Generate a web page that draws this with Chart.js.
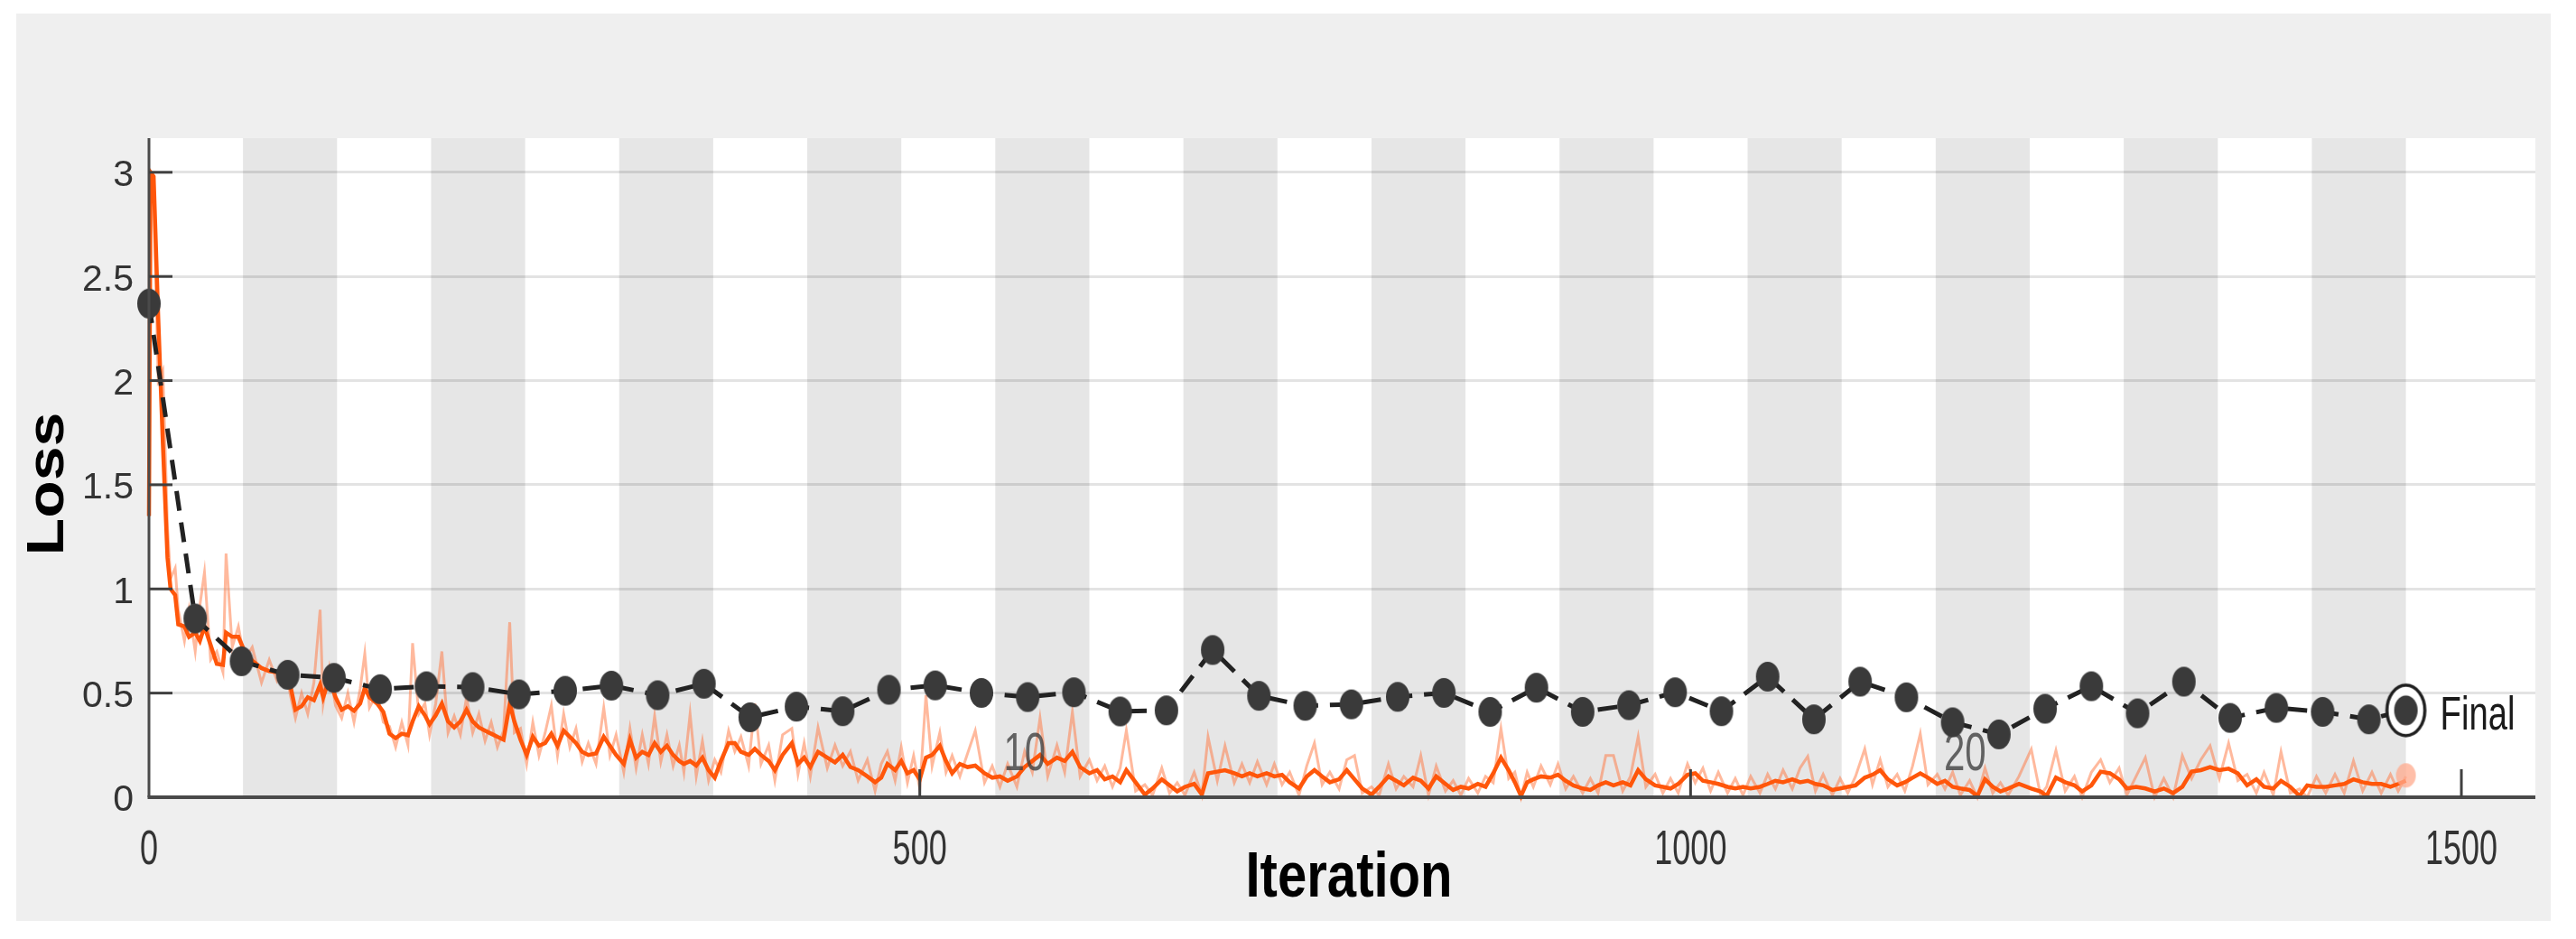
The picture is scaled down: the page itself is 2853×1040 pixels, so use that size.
<!DOCTYPE html>
<html><head><meta charset="utf-8">
<script src="https://cdn.jsdelivr.net/npm/chart.js@4.4.1/dist/chart.umd.min.js"></script>
<style>html,body{margin:0;padding:0;background:#fff;}canvas{display:block;}</style>
</head><body>
<canvas id="c" width="2853" height="1040"></canvas>
<script>
// ---------- DATA ----------
const xTickValues = [0, 500, 1000, 1500];
const yTickValues = [0, 0.5, 1, 1.5, 2, 2.5, 3];
const epochLength = 61;
const numEpochs = 24;
const epochLabels = [10, 20];

const valIter = [0,30,60,90,120,150,180,210,240,270,300,330,360,390,420,450,480,510,540,570,600,630,660,690,720,750,780,810,840,870,900,930,960,990,1020,1050,1080,1110,1140,1170,1200,1230,1260,1290,1320,1350,1380,1410,1440,1464];
const valLoss = [2.37,0.858,0.653,0.588,0.573,0.519,0.533,0.529,0.494,0.511,0.536,0.490,0.545,0.384,0.435,0.413,0.516,0.537,0.501,0.481,0.504,0.412,0.417,0.707,0.487,0.439,0.446,0.482,0.501,0.41,0.526,0.41,0.442,0.504,0.413,0.579,0.374,0.555,0.48,0.36,0.302,0.425,0.533,0.403,0.555,0.381,0.429,0.41,0.374,0.417];

const trainIter = [
0,1,3,6,9,12,14,17,19,23,
26,30,33,36,40,44,48,50,54,58,
62,67,73,78,83,88,92,95,99,103,
107,111,113,117,121,125,129,133,137,140,
143,148,152,156,160,164,168,171,175,179,
182,186,190,194,198,202,206,210,214,218,
222,226,230,234,237,241,245,249,253,257,
261,265,269,273,277,281,285,290,295,299,
303,308,312,316,320,324,328,332,336,340,
344,347,351,355,359,363,367,371,376,380,
384,389,393,397,402,406,411,417,421,425,
429,434,440,445,450,455,460,466,471,475,
479,484,488,492,496,500,504,508,513,517,
521,526,531,536,542,547,552,557,563,568,
573,578,583,589,594,599,604,610,615,620,
625,630,634,640,646,651,657,662,667,672,
678,683,687,693,698,704,709,714,719,725,
730,735,740,746,751,756,761,766,772,777,
782,787,793,798,804,809,814,820,825,830,
835,841,846,851,856,862,867,872,877,882,
886,890,894,898,903,909,914,919,924,930,
935,940,945,950,956,961,966,971,977,982,
987,992,998,1003,1008,1013,1018,1024,1029,1034,
1039,1045,1050,1055,1060,1066,1071,1076,1081,1086,
1092,1097,1102,1107,1113,1118,1123,1128,1134,1139,
1144,1149,1154,1160,1165,1170,1175,1181,1186,1191,
1196,1201,1206,1213,1221,1227,1231,1237,1243,1249,
1254,1260,1266,1272,1278,1283,1289,1295,1301,1307,
1313,1319,1325,1331,1337,1343,1349,1355,1361,1367,
1372,1378,1383,1389,1395,1400,1406,1412,1418,1424,
1430,1436,1442,1448,1454,1459,1464];

const trainSmooth = [
1.35,3.0,2.98,2.3,1.7,1.15,1.0,0.97,0.83,0.82,
0.77,0.79,0.75,0.82,0.73,0.64,0.635,0.79,0.77,0.77,
0.70,0.656,0.62,0.605,0.60,0.576,0.525,0.42,0.437,0.48,
0.466,0.54,0.48,0.57,0.48,0.42,0.437,0.415,0.45,0.525,
0.48,0.45,0.41,0.305,0.284,0.305,0.298,0.364,0.437,0.393,
0.35,0.393,0.45,0.364,0.335,0.364,0.42,0.364,0.335,0.32,
0.305,0.29,0.276,0.45,0.364,0.276,0.203,0.29,0.247,0.26,
0.305,0.247,0.32,0.29,0.26,0.218,0.203,0.21,0.29,0.247,
0.203,0.16,0.276,0.19,0.218,0.203,0.26,0.218,0.247,0.203,
0.174,0.16,0.174,0.152,0.19,0.13,0.094,0.174,0.26,0.26,
0.218,0.203,0.232,0.203,0.174,0.13,0.203,0.26,0.16,0.19,
0.145,0.218,0.19,0.167,0.203,0.145,0.13,0.10,0.072,0.094,
0.16,0.13,0.174,0.115,0.13,0.086,0.19,0.203,0.247,0.174,
0.115,0.16,0.145,0.152,0.115,0.094,0.10,0.079,0.10,0.145,
0.174,0.203,0.16,0.19,0.174,0.218,0.145,0.115,0.13,0.086,
0.10,0.072,0.13,0.072,0.013,0.042,0.086,0.057,0.028,0.05,
0.064,0.013,0.115,0.123,0.13,0.115,0.10,0.115,0.10,0.115,
0.10,0.108,0.072,0.042,0.10,0.13,0.10,0.072,0.086,0.13,
0.086,0.042,0.013,0.05,0.10,0.079,0.057,0.094,0.079,0.042,
0.10,0.064,0.035,0.05,0.042,0.064,0.05,0.115,0.19,0.13,
0.072,0.006,0.072,0.086,0.10,0.094,0.108,0.079,0.057,0.042,
0.035,0.057,0.072,0.057,0.072,0.057,0.13,0.086,0.057,0.05,
0.042,0.064,0.108,0.115,0.079,0.072,0.064,0.05,0.042,0.05,
0.042,0.05,0.064,0.079,0.072,0.086,0.072,0.079,0.064,0.057,
0.035,0.042,0.05,0.057,0.094,0.108,0.13,0.086,0.057,0.072,
0.094,0.115,0.094,0.064,0.079,0.05,0.042,0.035,0.006,0.086,
0.05,0.028,0.042,0.064,0.042,0.028,0.006,0.094,0.072,0.057,
0.028,0.057,0.123,0.115,0.086,0.042,0.05,0.042,0.028,0.042,
0.02,0.05,0.123,0.13,0.145,0.13,0.137,0.115,0.057,0.086,
0.05,0.042,0.079,0.05,0.006,0.057,0.05,0.05,0.057,0.064,
0.086,0.072,0.064,0.064,0.05,0.064,0.079];

const trainRaw = [
1.35,3.0,2.9,2.0,2.05,1.3,1.05,1.1,0.9,0.75,
0.9,0.7,0.92,1.08,0.66,0.7,0.6,1.17,0.72,0.82,
0.66,0.72,0.55,0.66,0.56,0.64,0.48,0.38,0.5,0.4,
0.55,0.9,0.45,0.62,0.44,0.38,0.5,0.36,0.52,0.69,
0.43,0.5,0.36,0.34,0.24,0.36,0.25,0.74,0.4,0.45,
0.3,0.45,0.7,0.31,0.39,0.3,0.48,0.31,0.4,0.27,
0.36,0.24,0.32,0.84,0.31,0.33,0.16,0.36,0.2,0.31,
0.44,0.2,0.4,0.24,0.33,0.17,0.26,0.16,0.43,0.2,
0.3,0.12,0.33,0.14,0.3,0.16,0.39,0.17,0.3,0.15,
0.25,0.12,0.4,0.1,0.27,0.08,0.18,0.12,0.32,0.22,
0.29,0.15,0.45,0.16,0.25,0.08,0.3,0.33,0.11,0.26,
0.1,0.335,0.14,0.25,0.15,0.22,0.08,0.18,0.03,0.16,
0.22,0.08,0.24,0.07,0.2,0.04,0.49,0.15,0.31,0.12,
0.2,0.1,0.21,0.32,0.07,0.15,0.05,0.16,0.05,0.22,
0.12,0.38,0.1,0.25,0.12,0.41,0.1,0.18,0.08,0.15,
0.05,0.14,0.32,0.03,0.06,0.01,0.14,0.02,0.07,0.01,
0.12,0.01,0.29,0.08,0.247,0.07,0.16,0.07,0.17,0.06,
0.16,0.06,0.12,0.01,0.15,0.26,0.06,0.12,0.04,0.18,
0.2,0.02,0.05,0.01,0.16,0.04,0.1,0.05,0.2,0.01,
0.15,0.03,0.08,0.01,0.09,0.02,0.1,0.07,0.33,0.09,
0.12,0.0,0.12,0.05,0.15,0.06,0.16,0.04,0.1,0.02,
0.09,0.02,0.2,0.2,0.03,0.1,0.29,0.05,0.11,0.02,
0.09,0.02,0.16,0.07,0.14,0.03,0.12,0.02,0.09,0.01,
0.1,0.02,0.11,0.04,0.13,0.04,0.14,0.196,0.03,0.11,
0.01,0.09,0.02,0.1,0.232,0.06,0.18,0.05,0.11,0.03,
0.15,0.305,0.06,0.11,0.04,0.12,0.01,0.08,0.0,0.14,
0.02,0.07,0.01,0.1,0.23,0.01,0.05,0.225,0.03,0.1,
0.0,0.12,0.18,0.07,0.14,0.01,0.1,0.19,0.0,0.09,
0.0,0.2,0.09,0.18,0.247,0.09,0.26,0.08,0.11,0.02,
0.12,0.01,0.218,0.02,0.04,0.0,0.1,0.02,0.11,0.02,
0.174,0.03,0.12,0.02,0.11,0.03,0.1];

const finalTrainLoss = 0.105;
const finalLabel = 'Final';
const xTitle = 'Iteration';
const yTitle = 'Loss';

// ---------- STYLE HELPERS ----------
const W = 2853, H = 1040;
const FONT = "'Liberation Sans', Arial, Helvetica, sans-serif";

function ellipseCanvas(w, h, fill) {
  const c = document.createElement('canvas');
  c.width = w + 2; c.height = h + 2;
  const g = c.getContext('2d');
  g.fillStyle = fill;
  g.beginPath(); g.ellipse(c.width / 2, c.height / 2, w / 2, h / 2, 0, 0, Math.PI * 2); g.fill();
  return c;
}
function ringCanvas() {
  const c = document.createElement('canvas');
  c.width = 50; c.height = 64;
  const g = c.getContext('2d');
  g.fillStyle = '#ffffff';
  g.beginPath(); g.ellipse(25, 32, 21, 28, 0, 0, Math.PI * 2); g.fill();
  g.strokeStyle = '#1f1f1f'; g.lineWidth = 3.5; g.stroke();
  g.fillStyle = '#3a3a3a';
  g.beginPath(); g.ellipse(25, 32, 13, 16.5, 0, 0, Math.PI * 2); g.fill();
  return c;
}
const valMarker = ellipseCanvas(26, 33, '#3a3a3a');
const finalMarker = ringCanvas();
const trainFinalMarker = ellipseCanvas(22, 27, 'rgba(255,170,140,0.75)');

function drawStretched(ctx, text, x, y, font, color, sx, align, rot) {
  ctx.save();
  ctx.translate(x, y);
  if (rot) ctx.rotate(rot);
  ctx.scale(sx, 1);
  ctx.font = font; ctx.fillStyle = color;
  ctx.textAlign = align; ctx.textBaseline = 'alphabetic';
  ctx.fillText(text, 0, 0);
  ctx.restore();
}

const pts = (xs, ys) => xs.map((x, i) => ({ x: x, y: ys[i] }));

// ---------- PLUGINS ----------
const backgroundPlugin = {
  id: 'background',
  beforeDraw(chart) {
    const { ctx, chartArea: a, scales: { x } } = chart;
    ctx.save();
    ctx.fillStyle = '#ffffff'; ctx.fillRect(0, 0, W, H);
    ctx.fillStyle = '#efefef'; ctx.fillRect(18, 15, 2807, 1005);
    ctx.fillStyle = '#ffffff'; ctx.fillRect(a.left, a.top, a.right - a.left, a.bottom - a.top);
    ctx.fillStyle = '#e6e6e6';
    for (let e = 2; e <= numEpochs; e += 2) {
      const x0 = x.getPixelForValue((e - 1) * epochLength);
      const x1 = x.getPixelForValue(e * epochLength);
      ctx.fillRect(x0, a.top, x1 - x0, a.bottom - a.top);
    }
    ctx.restore();
  }
};

const axesPlugin = {
  id: 'axesAndText',
  afterDatasetsDraw(chart) {
    const { ctx, chartArea: a, scales: { x, y } } = chart;
    ctx.save();
    ctx.strokeStyle = '#4a4a4a';
    ctx.lineWidth = 3;
    ctx.beginPath(); ctx.moveTo(a.left, a.top); ctx.lineTo(a.left, a.bottom); ctx.stroke();
    ctx.lineWidth = 4;
    ctx.beginPath(); ctx.moveTo(a.left - 1.5, a.bottom); ctx.lineTo(a.right, a.bottom); ctx.stroke();
    ctx.lineWidth = 3; ctx.strokeStyle = '#404040';
    yTickValues.forEach(v => {
      if (v === 0) return;
      const py = y.getPixelForValue(v);
      ctx.beginPath(); ctx.moveTo(a.left, py); ctx.lineTo(a.left + 26, py); ctx.stroke();
    });
    xTickValues.forEach(v => {
      if (v === 0) return;
      const px = x.getPixelForValue(v);
      ctx.beginPath(); ctx.moveTo(px, a.bottom); ctx.lineTo(px, a.bottom - 31); ctx.stroke();
    });
    ctx.restore();
  },
  afterDraw(chart) {
    const { ctx, scales: { x, y } } = chart;
    xTickValues.forEach(v => {
      drawStretched(ctx, String(v), x.getPixelForValue(v), 957, '53px ' + FONT, '#333333', 0.68, 'center');
    });
    drawStretched(ctx, xTitle, 1494, 993, 'bold 70px ' + FONT, '#000000', 0.83, 'center');
    drawStretched(ctx, yTitle, 70, 536, 'bold 58px ' + FONT, '#000000', 1.17, 'center', -Math.PI / 2);
    epochLabels.forEach(e => {
      const px = x.getPixelForValue((e - 1) * epochLength + 19);
      drawStretched(ctx, String(e), px, 853, '60px ' + FONT, 'rgba(60,60,60,0.78)', 0.7, 'center');
    });
    const li = valIter.length - 1;
    const fx = x.getPixelForValue(valIter[li]);
    const fy = y.getPixelForValue(valLoss[li]);
    drawStretched(ctx, finalLabel, fx + 38, fy + 21, '51px ' + FONT, '#1a1a1a', 0.75, 'left');
  }
};

// ---------- CHART ----------
new Chart(document.getElementById('c'), {
  type: 'line',
  data: {
    datasets: [
      {
        label: 'Final validation',
        data: [{ x: valIter[valIter.length - 1], y: valLoss[valLoss.length - 1] }],
        showLine: false,
        pointStyle: finalMarker, pointRadius: 20,
        order: 1, clip: false
      },
      {
        label: 'Validation',
        data: pts(valIter, valLoss),
        borderColor: '#222222', borderWidth: 5, borderDash: [22, 13],
        pointStyle: valMarker, pointRadius: 14,
        tension: 0, order: 2, clip: false
      },
      {
        label: 'Final training',
        data: [{ x: trainIter[trainIter.length - 1], y: finalTrainLoss }],
        showLine: false,
        pointStyle: trainFinalMarker, pointRadius: 12,
        order: 3, clip: false
      },
      {
        label: 'Training (smoothed)',
        data: pts(trainIter, trainSmooth),
        borderColor: '#ff560a', borderWidth: 4.5,
        pointRadius: 0, tension: 0, order: 4, clip: false
      },
      {
        label: 'Training',
        data: pts(trainIter, trainRaw),
        borderColor: 'rgba(255,115,60,0.5)', borderWidth: 3,
        pointRadius: 0, tension: 0, order: 5, clip: false
      }
    ]
  },
  options: {
    responsive: false,
    devicePixelRatio: 1,
    animation: false,
    events: [],
    layout: { padding: { top: 153, right: 45, bottom: 0, left: 0 } },
    plugins: { legend: { display: false }, tooltip: { enabled: false } },
    scales: {
      x: {
        type: 'linear', min: 0, max: 1548,
        afterBuildTicks: s => { s.ticks = xTickValues.map(v => ({ value: v })); },
        afterFit: s => { s.height = 157; },
        ticks: { display: false },
        grid: { display: false, drawTicks: false },
        border: { display: false }
      },
      y: {
        type: 'linear', min: 0, max: 3.164,
        afterBuildTicks: s => { s.ticks = yTickValues.map(v => ({ value: v })); },
        afterFit: s => { s.width = 165; },
        ticks: {
          display: true, padding: 17, labelOffset: 4,
          color: '#333333',
          font: { family: FONT, size: 41 },
          callback: v => String(v)
        },
        grid: { color: 'rgba(0,0,0,0.11)', lineWidth: 3, drawTicks: false },
        border: { display: false }
      }
    }
  },
  plugins: [backgroundPlugin, axesPlugin]
});
</script>
</body></html>
